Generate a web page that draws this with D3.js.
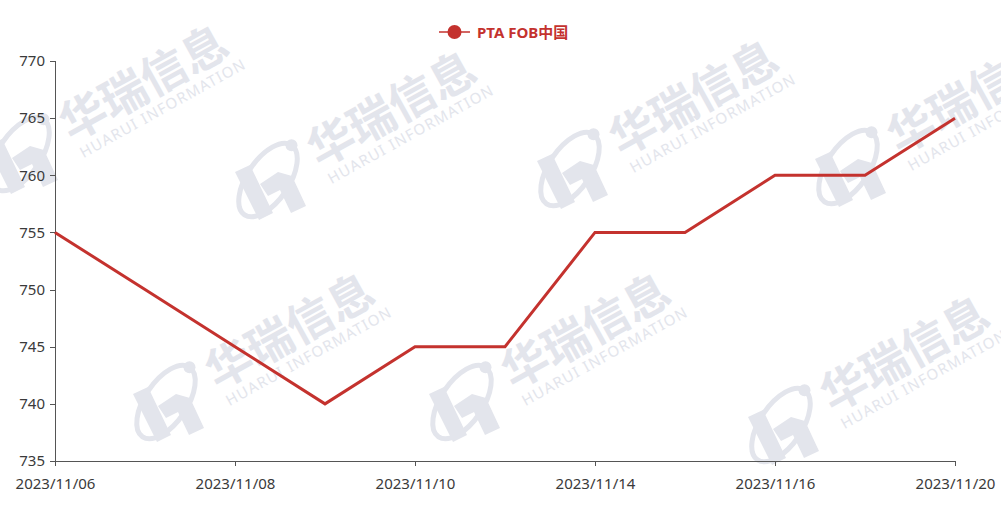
<!DOCTYPE html>
<html><head><meta charset="utf-8">
<script src="https://cdn.jsdelivr.net/npm/d3@7/dist/d3.min.js"></script>
<style>body{margin:0;background:#fff}svg{display:block}</style>
</head><body>
<svg id="c" width="1001" height="505"></svg>
<script>
const categories = ["2023/11/06","2023/11/07","2023/11/08","2023/11/09","2023/11/10","2023/11/13","2023/11/14","2023/11/15","2023/11/16","2023/11/17","2023/11/20"];
const seriesName = "PTA FOB中国";
const values = [755,750,745,740,745,745,755,755,760,760,765];
const yTicks = [735,740,745,750,755,760,765,770];
const xTickLabels = ["2023/11/06","2023/11/08","2023/11/10","2023/11/14","2023/11/16","2023/11/20"];
const watermarkCN = "华瑞信息";
const watermarkEN = "HUARUI INFORMATION";

(function(){
const svg = d3.select("#c");
const pL=55, pR=955, pT=61, pB=461;
const color="#c4322e";
const font="'Noto Sans','Open Sans',sans-serif";
const wmColor="#e3e5ec";

// watermarks (text centre positions)
const wm=[[142,80],[390,106],[692,95],[970,93],[288,328],[584,328],[903,351]];
const wg=svg.append("g");
wm.forEach(([cx,cy])=>{
  const g=wg.append("g").attr("transform",`translate(${cx},${cy}) rotate(-29)`).attr("fill",wmColor);
  g.append("text").attr("x",0).attr("y",0).attr("text-anchor","middle").attr("dominant-baseline","central")
    .attr("font-size",46).attr("font-weight","bold").attr("font-family","'Noto Sans CJK SC',sans-serif").text(watermarkCN);
  g.append("text").attr("x",4).attr("y",34).attr("text-anchor","middle").attr("dominant-baseline","central")
    .attr("font-size",15).attr("textLength",186).attr("lengthAdjust","spacing").attr("font-family",font).text(watermarkEN);
  // logo
  const lx=cx-122, ly=cy+74;
  const lgo=wg.append("g").attr("transform",`translate(${lx},${ly})`).attr("fill",wmColor);
  lgo.append("ellipse").attr("cx",0).attr("cy",0).attr("rx",21).attr("ry",42).attr("transform","rotate(34)")
    .attr("fill","none").attr("stroke",wmColor).attr("stroke-width",5);
  lgo.append("circle").attr("cx",42*Math.sin(34*Math.PI/180)).attr("cy",-42*Math.cos(34*Math.PI/180)).attr("r",6);
  lgo.append("path").attr("d","M-33,-8 L-18,-15 L5,33 L-9,40 Z");
  lgo.append("path").attr("d","M-8,4 L10,-8 L24,-4 L38,26 L23,33 L12,10 L0,16 Z");
});

const x=d3.scalePoint().domain(categories).range([pL,pR]);
const y=d3.scaleLinear().domain([735,770]).range([pB,pT]);

const yAxis=svg.append("g").attr("transform",`translate(${pL},0)`)
  .call(d3.axisLeft(y).tickValues(yTicks).tickSize(5).tickPadding(5));
const xAxis=svg.append("g").attr("transform",`translate(0,${pB})`)
  .call(d3.axisBottom(x).tickValues(xTickLabels).tickSize(5).tickPadding(12));
[yAxis,xAxis].forEach(a=>{
  a.selectAll("path,line").attr("stroke","#555").attr("shape-rendering","crispEdges");
  a.selectAll("text").attr("fill","#3a3a3a").attr("font-size",15).attr("font-family",font);
});
yAxis.select(".domain").attr("d",`M0.5,${pT}V${pB}`);
xAxis.select(".domain").attr("d",`M${pL},0.5H${pR}`);

const line=d3.line().x((d,i)=>x(categories[i])).y(d=>y(d));
svg.append("path").datum(values).attr("d",line).attr("fill","none").attr("stroke",color).attr("stroke-width",3).attr("stroke-linejoin","miter");

// legend
const lg=svg.append("g");
lg.append("line").attr("x1",439).attr("x2",470).attr("y1",32).attr("y2",32).attr("stroke",color).attr("stroke-width",1.5);
lg.append("circle").attr("cx",454.5).attr("cy",32).attr("r",7).attr("fill",color);
lg.append("text").attr("x",477).attr("y",32).attr("dominant-baseline","central").attr("fill",color).attr("font-size",15).attr("font-weight","bold").attr("font-family","'Noto Sans','Noto Sans CJK SC',sans-serif").text(seriesName);
})();
</script>
</body></html>
